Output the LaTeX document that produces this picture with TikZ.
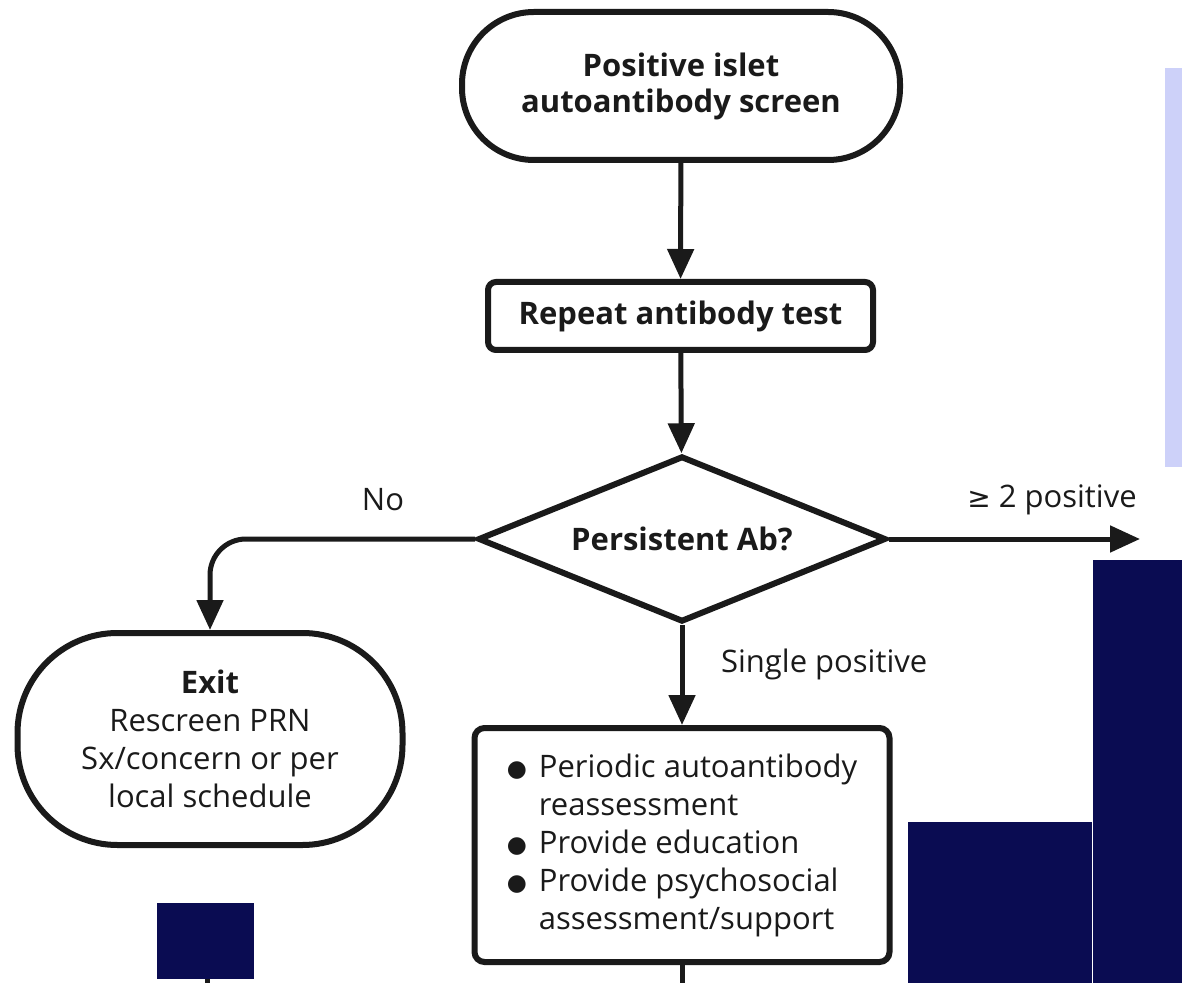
\documentclass[tikz,border=0pt]{standalone}
\usepackage{fontspec}
\setmainfont{Open Sans}
\newfontfamily\symfont{DejaVu Sans}
\usetikzlibrary{shapes.geometric,arrows.meta}
\definecolor{navy}{HTML}{0A0C52}
\definecolor{lav}{HTML}{CDD1F9}
\definecolor{ink}{HTML}{1A1A1A}
\newcommand{\bul}{\makebox[16pt][l]{\raisebox{0.4pt}{\symfont\fontsize{11.5}{11.5}\selectfont ●}}}
\begin{document}
\begin{tikzpicture}[x=0.5pt,y=-0.5pt,
  every node/.style={font=\fontsize{15.5}{18}\selectfont, text=ink},
  term/.style={draw=ink, line width=3pt, align=center, inner sep=0pt},
  proc/.style={draw=ink, line width=3pt, rounded corners=4pt, align=center, inner sep=0pt},
  dec/.style={draw=ink, line width=3pt, diamond, shape aspect=2.46, inner sep=0pt, align=center},
  conn/.style={draw=ink, line width=2.5pt, -{Triangle[length=15pt,width=13pt]}},
  plainconn/.style={draw=ink, line width=2.5pt},
  lbl/.style={font=\fontsize{15.5}{18}\selectfont}]
\useasboundingbox (0,0) rectangle (1182,983);
\fill[white] (0,0) rectangle (1182,983);

\node[term, minimum width=219pt, minimum height=74pt, rounded corners=36pt] (start) at (681,86)
  {\bfseries Positive islet\\\bfseries autoantibody screen};
\node[proc, minimum width=192.5pt, minimum height=34pt] (repeat) at (680.5,316)
  {\bfseries Repeat antibody test};
\node[dec, minimum width=204pt, minimum height=83pt] (persist) at (682,539)
  {\bfseries Persistent Ab?};
\node[term, minimum width=192.5pt, minimum height=106pt, rounded corners=50pt,
  font=\fontsize{15.5}{19}\selectfont] (exit) at (210,739)
  {\bfseries Exit\\Rescreen PRN\\Sx/concern or per\\local schedule};
\node[proc, rounded corners=5pt, minimum width=207.5pt, minimum height=117pt,
  align=left, font=\fontsize{15.5}{19}\selectfont] (care) at (682,845)
  {\bul Periodic autoantibody\\
   \hspace*{16pt}reassessment\\
   \bul Provide education\\
   \bul Provide psychosocial\\
   \hspace*{16pt}assessment/support};

\coordinate (rightend) at (1140,539);
\coordinate (careout) at (682,990);
\coordinate (exitA) at (207,970);
\coordinate (exitB) at (207,990);

\draw[conn] (start) -- (repeat);
\draw[conn] (repeat) -- (persist);
\draw[conn, rounded corners=18pt] (persist.west) -| (exit.north);
\draw[conn] (persist.east) -- (rightend);
\draw[conn] (persist.south) -- (care.north);
\draw[plainconn] (care.south) -- (careout);
\draw[plainconn] (exitA) -- (exitB);

\node[lbl] (nolbl) at (383,500) {No};
\node[lbl] (twolbl) at (1052,500) {{\symfont\fontsize{14}{14}\selectfont ≥} 2 positive};
\node[lbl, anchor=west] (singlelbl) at (714,664) {Single positive};

\fill[lav] (1165,68) rectangle (1182,467);
\fill[navy] (157,903) rectangle (254,979);
\fill[navy] (908,822) rectangle (1092,983);
\fill[navy] (1093,560) rectangle (1182,983);
\end{tikzpicture}
\end{document}
